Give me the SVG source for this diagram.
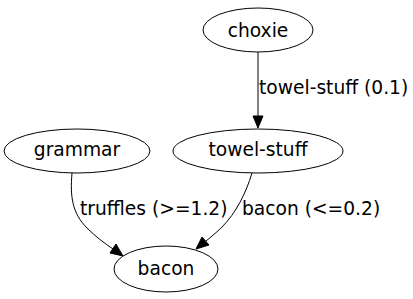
<svg xmlns="http://www.w3.org/2000/svg" width="413" height="299" viewBox="0 0 413 299">
<style>
.n ellipse{fill:#fff;stroke:#000;stroke-width:1}
text{font-family:"DejaVu Sans",sans-serif;font-size:18.67px;fill:#000}
.n text{text-anchor:middle}
.e path{fill:none;stroke:#000;stroke-width:1}
.e polygon{fill:#000;stroke:#000;stroke-width:1}
</style>
<rect width="413" height="299" fill="#fff"/>
<g id="edges" class="e">
<path d="M258,52 L258,117"/>
<polygon points="253,116 258,128 263,116"/>
<text x="259" y="94">towel-stuff (0.1)</text>
<path d="M72,173 C70,196 72,213 87,228 C95,236 104,243 113,249"/>
<polygon points="110,253 123,256 116,244"/>
<text x="80" y="215">truffles (&gt;=1.2)</text>
<path d="M252,173 C246,193 236,213 222,227 C217,232 211,237 206,241"/>
<polygon points="202,237 196,249 209,245"/>
<text x="242" y="215">bacon (&lt;=0.2)</text>
</g>
<g id="choxie" class="n"><ellipse cx="258" cy="30" rx="55" ry="22"/><text x="258" y="37">choxie</text></g>
<g id="towel-stuff" class="n"><ellipse cx="258" cy="151" rx="85" ry="22"/><text x="258" y="156">towel-stuff</text></g>
<g id="grammar" class="n"><ellipse cx="77" cy="151" rx="73" ry="22"/><text x="77" y="156">grammar</text></g>
<g id="bacon" class="n"><ellipse cx="166" cy="269" rx="52" ry="23"/><text x="166" y="275">bacon</text></g>
</svg>
